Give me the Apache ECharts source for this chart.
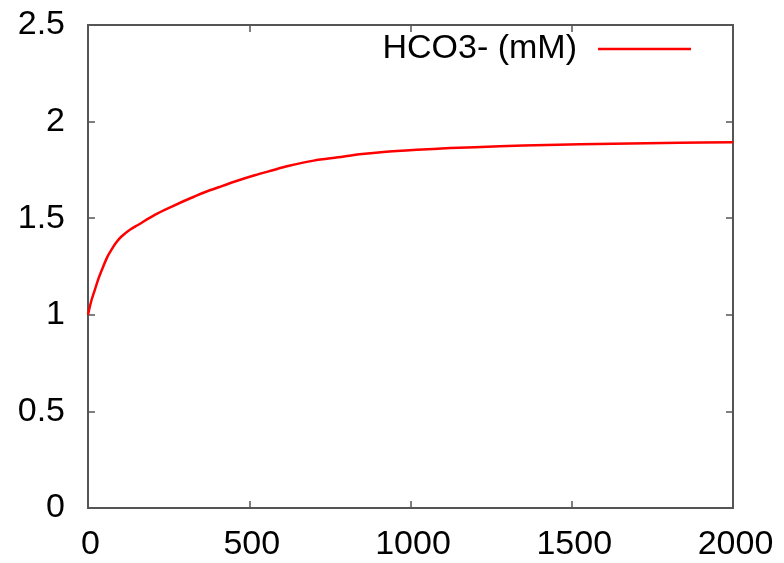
<!DOCTYPE html>
<html>
<head>
<meta charset="utf-8">
<style>
  html, body { margin: 0; padding: 0; background: #fff; }
  #chart { width: 784px; height: 563px; }
</style>
<script src="https://cdn.jsdelivr.net/npm/echarts@6/dist/echarts.min.js"></script>
</head>
<body>
<div id="chart"></div>
<script>
// Bicarbonate concentration over time
const seriesName = 'HCO3- (mM)';
const time = [0, 10, 21, 33, 47, 60, 72, 88, 103, 130, 155, 207, 260, 310, 360, 413, 465, 517, 570, 620, 700, 775, 850, 916, 1019, 1123, 1277, 1422, 1629, 1835, 2000];
const hco3 = [1.0, 1.07, 1.128, 1.19, 1.249, 1.30, 1.335, 1.375, 1.404, 1.44, 1.465, 1.517, 1.56, 1.598, 1.633, 1.665, 1.695, 1.722, 1.747, 1.77, 1.798, 1.815, 1.832, 1.843, 1.854, 1.863, 1.872, 1.879, 1.885, 1.890, 1.893];
const xTicks = [0, 500, 1000, 1500, 2000];
const yTicks = [0, 0.5, 1, 1.5, 2, 2.5];

const frameColor = '#555';
const font = 'Liberation Sans, Arial, Helvetica, sans-serif';
const fontSize = 34;

const chart = echarts.init(document.getElementById('chart'), null, { renderer: 'canvas' });

const tickCommon = { show: true, inside: true, length: 7, lineStyle: { color: frameColor, width: 1.5 } };
const hiddenLine = { show: false, onZero: false };

chart.setOption({
  animation: false,
  backgroundColor: '#fff',
  grid: {
    left: 88, right: 51, top: 25, bottom: 55,
    show: true, borderColor: frameColor, borderWidth: 2, backgroundColor: 'transparent'
  },
  legend: {
    data: [{ name: seriesName, icon: 'rect' }],
    right: 88, top: 27,
    align: 'right',
    itemWidth: 93, itemHeight: 2.5,
    itemStyle: { color: '#ff0000' },
    textStyle: { fontFamily: font, fontSize: fontSize, color: '#000', padding: [0, 16, 0, 0] }
  },
  xAxis: [{
    type: 'value', min: xTicks[0], max: xTicks[xTicks.length - 1], interval: 500,
    axisLine: hiddenLine,
    axisTick: tickCommon,
    splitLine: { show: false },
    axisLabel: {
      fontFamily: font, fontSize: fontSize, color: '#000', margin: 20,
      padding: [0, 0, 0, 5],
      formatter: v => String(v)
    }
  }, {
    type: 'value', position: 'top', min: xTicks[0], max: xTicks[xTicks.length - 1], interval: 500,
    axisLine: hiddenLine, axisTick: tickCommon, splitLine: { show: false }, axisLabel: { show: false }
  }],
  yAxis: [{
    type: 'value', min: yTicks[0], max: yTicks[yTicks.length - 1], interval: 0.5,
    axisLine: hiddenLine,
    axisTick: tickCommon,
    splitLine: { show: false },
    axisLabel: { fontFamily: font, fontSize: fontSize, color: '#000', margin: 23 }
  }, {
    type: 'value', position: 'right', min: yTicks[0], max: yTicks[yTicks.length - 1], interval: 0.5,
    axisLine: hiddenLine, axisTick: tickCommon, splitLine: { show: false }, axisLabel: { show: false }
  }],
  series: [{
    name: seriesName,
    type: 'line',
    data: time.map((t, i) => [t, hco3[i]]),
    smooth: 0.3,
    symbol: 'none',
    lineStyle: { color: '#ff0000', width: 2.5 },
    itemStyle: { color: '#ff0000' }
  }, {
    // empty series so the mirrored top/right axes are drawn
    name: 'mirror',
    type: 'line',
    xAxisIndex: 1,
    yAxisIndex: 1,
    data: [],
    silent: true
  }]
});
</script>
</body>
</html>
